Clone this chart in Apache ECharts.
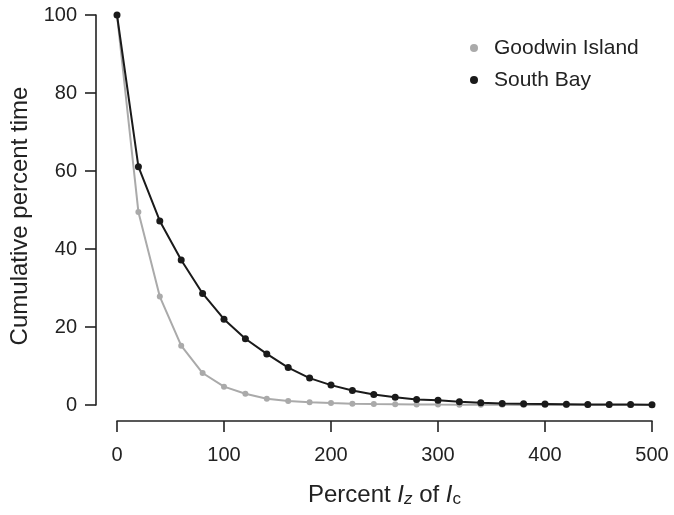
<!DOCTYPE html>
<html>
<head>
<meta charset="utf-8">
<script src="https://cdn.jsdelivr.net/npm/echarts@6/dist/echarts.min.js"></script>
<style>
html,body{margin:0;padding:0;background:#fff;}
#chart{width:674px;height:515px;}
</style>
</head>
<body>
<div id="chart"></div>
<script>
var xValues = [0,20,40,60,80,100,120,140,160,180,200,220,240,260,280,300,320,340,360,380,400,420,440,460,480,500];
var goodwinIsland = [100,49.5,27.8,15.2,8.2,4.7,2.9,1.6,1.0,0.7,0.5,0.35,0.25,0.2,0.15,0.1,0.08,0.05,0.04,0.03,0.02,0.02,0.01,0.01,0.01,0.01];
var southBay = [100,61.1,47.2,37.2,28.6,22.0,17.0,13.1,9.6,6.9,5.1,3.7,2.7,2.0,1.4,1.2,0.85,0.6,0.4,0.3,0.25,0.2,0.15,0.12,0.1,0.08];
var seriesNames = ['Goodwin Island','South Bay'];
var yTicks = [0,20,40,60,80,100];
var xTicks = [0,100,200,300,400,500];

function pairs(ys){ return xValues.map(function(x,i){ return [x, ys[i]]; }); }

var FONT = '"Liberation Sans", Arial, Helvetica, sans-serif';
var INK = '#222222';
var chart = echarts.init(document.getElementById('chart'), null, {renderer:'canvas'});
chart.setOption({
  animation:false,
  backgroundColor:'#ffffff',
  textStyle:{fontFamily:FONT},
  grid:{left:117, right:22, top:15, bottom:110, containLabel:false},
  legend:{
    orient:'vertical', left:465, top:32, itemWidth:8, itemHeight:8, itemGap:10,
    icon:'circle',
    data:seriesNames,
    textStyle:{fontFamily:FONT, fontSize:21, color:INK, lineHeight:22, padding:[0,0,0,11]}
  },
  xAxis:{
    type:'value', min:xTicks[0], max:xTicks[xTicks.length-1], interval:100,
    offset:16,
    axisLine:{show:true, onZero:false, lineStyle:{color:INK, width:1.6}},
    axisTick:{show:true, length:11, lineStyle:{color:INK, width:1.6}},
    axisLabel:{fontFamily:FONT, fontSize:20, color:INK, margin:24},
    splitLine:{show:false},
    name:'Percent {i|I}{subi|z} of {i|I}{sub|c}',
    nameLocation:'middle', nameGap:61,
    nameTextStyle:{fontFamily:FONT, fontSize:24, color:INK, lineHeight:26,
      rich:{
        i:{fontFamily:FONT, fontSize:24, fontStyle:'italic', color:INK, lineHeight:26},
        subi:{fontFamily:FONT, fontSize:17, fontStyle:'italic', color:INK, lineHeight:10, verticalAlign:'bottom'},
        sub:{fontFamily:FONT, fontSize:17, color:INK, lineHeight:10, verticalAlign:'bottom'}
      }}
  },
  yAxis:{
    type:'value', min:yTicks[0], max:yTicks[yTicks.length-1], interval:20,
    offset:21,
    axisLine:{show:true, onZero:false, lineStyle:{color:INK, width:1.6}},
    axisTick:{show:true, length:11, lineStyle:{color:INK, width:1.6}},
    axisLabel:{fontFamily:FONT, fontSize:20, color:INK, margin:19},
    splitLine:{show:false},
    name:'Cumulative percent time',
    nameLocation:'middle', nameGap:63,
    nameTextStyle:{fontFamily:FONT, fontSize:24, color:INK, padding:[0,12,0,0]}
  },
  series:[
    {
      name:seriesNames[0], type:'line', data:pairs(goodwinIsland), clip:false,
      symbol:'circle', symbolSize:6,
      itemStyle:{color:'#aaaaaa'},
      lineStyle:{color:'#aaaaaa', width:2}
    },
    {
      name:seriesNames[1], type:'line', data:pairs(southBay), clip:false,
      symbol:'circle', symbolSize:7,
      itemStyle:{color:'#1a1a1a'},
      lineStyle:{color:'#1a1a1a', width:2}
    }
  ]
});
</script>
</body>
</html>
